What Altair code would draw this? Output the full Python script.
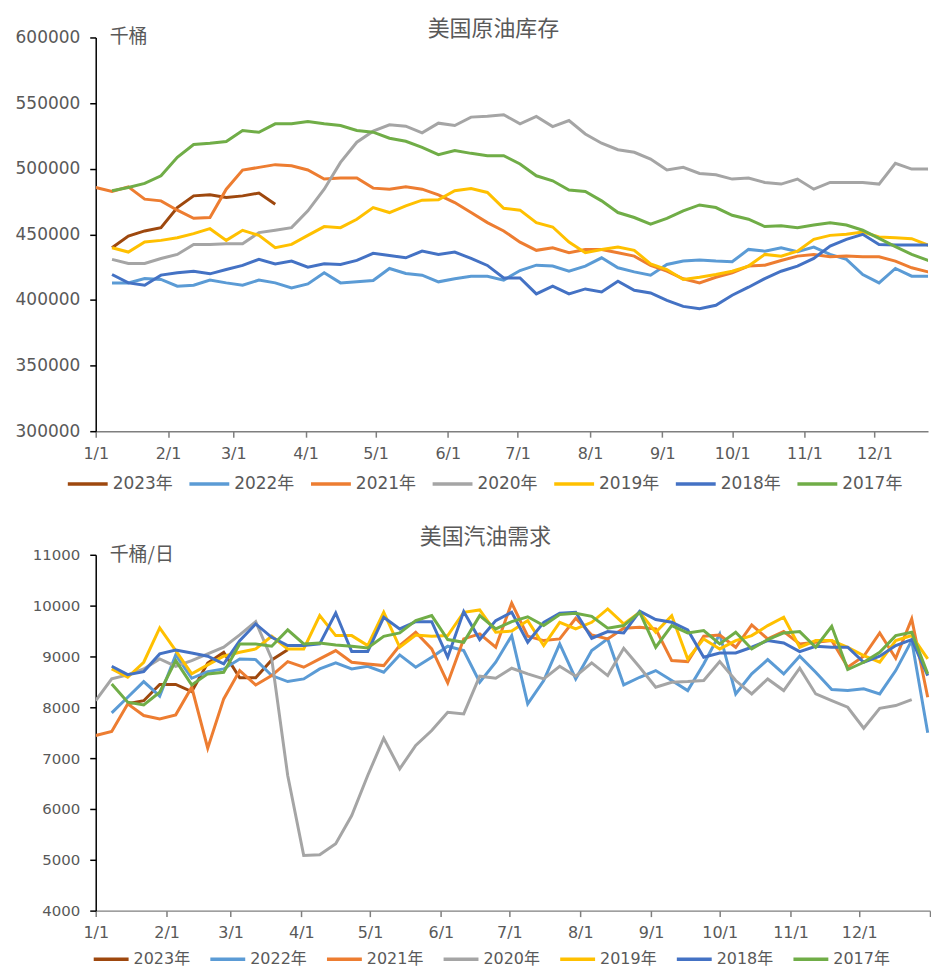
import altair as alt
import pandas as pd

SERIES = ["2023年", "2022年", "2021年", "2020年", "2019年", "2018年", "2017年"]
COLORS = ["#9E480E", "#5B9BD5", "#ED7D31", "#A5A5A5", "#FFC000", "#4472C4", "#70AD47"]

# weekly grid: index 0 = 1/1, then every 7 days
WEEK_DAY = [7 * i for i in range(53)]

MONTH_TICKS = [0, 31, 59, 90, 120, 151, 181, 212, 243, 273, 304, 334, 365]
MONTH_LABELS = ["1/1", "2/1", "3/1", "4/1", "5/1", "6/1", "7/1", "8/1", "9/1",
                "10/1", "11/1", "12/1", ""]

# ---------------- US crude inventory (thousand barrels) ----------------
crude_start = {"2023年": 1, "2022年": 1, "2021年": 0, "2020年": 1, "2019年": 1, "2018年": 1, "2017年": 1}
crude_2023 = [439800, 448700, 452600, 455100, 470400, 479300, 480100, 478100, 479300, 481400, 473000]
crude_2022 = [413000, 413000, 416300, 415600, 410500, 411200, 415100, 413000, 411200, 415100,
              413000, 409200, 412200, 420700, 413000, 413800, 414800, 424000, 420200, 418900,
              413800, 416100, 418100, 418100, 415100, 422400, 426500, 425800, 421900, 425800,
              432100, 424500, 421400, 418900, 427000, 429600, 430400, 429600, 429100, 438500,
              437200, 439800, 436700, 440300, 434700, 430900, 419400, 413000, 424000, 418100,
              418100, 418100]
crude_2021 = [485700, 482700, 486200, 476800, 475500, 468400, 462200, 462800, 484400, 499000,
              501000, 503100, 502300, 499000, 492100, 492900, 492900, 485200, 484400, 486200,
              484400, 480100, 474200, 466600, 458900, 452600, 444000, 437800, 439800, 436000,
              438500, 438500, 436000, 433400, 426300, 421900, 416100, 413000, 417300, 420700,
              425800, 426500, 430100, 433400, 434700, 432900, 433400, 432900, 432900, 429600,
              424500, 421400, 418900]
crude_2020 = [430900, 427800, 427800, 431600, 434700, 442300, 442300, 442900, 442900, 451300,
              453100, 455100, 467900, 484400, 504800, 520200, 528600, 533400, 532400, 527300,
              534700, 532900, 539300, 540000, 541100, 534200, 539800, 532100, 536700, 526500,
              519400, 514500, 512500, 507400, 499000, 501000, 496400, 495400, 492100, 492900,
              489500, 488300, 492100, 484400, 489500, 489500, 489500, 488300, 504100, 499700,
              499700, 494600]
crude_2019 = [439800, 436500, 444100, 445400, 447400, 450500, 454300, 445400, 453100, 449200,
              439800, 442300, 449200, 455900, 455100, 461500, 470400, 466600, 471700, 476000,
              476300, 483200, 484900, 481900, 469900, 468400, 458900, 455600, 444100, 436000,
              438500, 440300, 437800, 427500, 423200, 415600, 417300, 419400, 421900, 425800,
              434700, 433400, 437200, 446200, 449200, 450000, 451800, 448000, 447400, 446700,
              441800, 432000]
crude_2018 = [419400, 413000, 411200, 418900, 420700, 421900, 419900, 423200, 426300, 430900,
              427500, 429600, 425000, 427500, 427000, 430100, 435500, 433900, 432100, 437200,
              434700, 436500, 431600, 426300, 416800, 416800, 404600, 410500, 404600, 408400,
              406100, 414300, 407400, 405300, 399700, 395100, 393300, 395900, 403600, 409700,
              416300, 421900, 425800, 431600, 441100, 446200, 450000, 442300, 441800, 441800,
              441800, 441800]
crude_2017 = [483200, 485700, 488800, 494600, 508700, 518400, 519400, 520700, 529100, 527800,
              534200, 534200, 536000, 534200, 532900, 529100, 527800, 523200, 520900, 516300,
              510700, 513800, 511700, 509900, 509900, 503600, 494600, 490800, 483700, 482700,
              475500, 466600, 462800, 457700, 462200, 467900, 472400, 470400, 464500, 461500,
              455900, 456600, 455100, 457100, 458900, 457100, 453100, 446900, 440600, 434700,
              430100, 425000]

# ---------------- US gasoline demand (thousand barrels/day) ----------------
gas_start = {"2023年": 2, "2022年": 1, "2021年": 0, "2020年": 0, "2019年": 1, "2018年": 1, "2017年": 1}
gas_2023 = [8070, 8130, 8450, 8450, 8310, 8870, 9080, 8580, 8580, 8930, 9130]
gas_2022 = [7890, 8198, 8506, 8218, 9030, 8571, 8702, 8755, 8952, 8938,
            8624, 8506, 8558, 8755, 8873, 8755, 8807, 8689, 9030, 8788,
            8984, 9201, 9115, 8493, 8886, 9410, 8067, 8526, 9246, 8558,
            9115, 9345, 8440, 8591, 8722, 8526, 8329, 8853, 9443, 8263,
            8657, 8938, 8657, 9004, 8689, 8349, 8329, 8362, 8263, 8722,
            9312, 7497]
gas_2021 = [7444, 7523, 8067, 7837, 7772, 7851, 8394, 7195, 8165, 8722,
            8440, 8624, 8899, 8788, 8952, 9115, 8886, 8853, 8820, 9214,
            9476, 9148, 8480, 9345, 9443, 9181, 10052, 9400, 9312, 9345,
            9751, 9423, 9345, 9554, 9574, 9541, 8919, 8899, 9397, 9423,
            9181, 9620, 9345, 9489, 9246, 9279, 9312, 8788, 9004, 9463,
            8965, 9738, 8198]
gas_2020 = [8132, 8558, 8637, 8755, 8952, 8807, 8919, 9050, 9181, 9423,
            9685, 8952, 6658, 5085, 5098, 5315, 5871, 6658, 7392, 6789,
            7248, 7543, 7903, 7870, 8611, 8571, 8768, 8657, 8558, 8807,
            8611, 8873, 8624, 9161, 8788, 8394, 8493, 8506, 8526, 8899,
            8526, 8263, 8558, 8329, 8768, 8263, 8132, 8001, 7588, 7981,
            8034, 8152]
gas_2019 = [8755, 8591, 8886, 9561, 9115, 8657, 8834, 9004, 9083, 9148,
            9397, 9148, 9148, 9803, 9410, 9410, 9214, 9869, 9181, 9423,
            9397, 9410, 9869, 9915, 9476, 9500, 9705, 9214, 9672, 9541,
            9672, 9934, 9640, 9869, 9476, 9803, 8952, 9345, 9148, 9312,
            9410, 9607, 9771, 9181, 9312, 9312, 9181, 9017, 8886, 9312,
            9410, 8952]
gas_2018 = [8807, 8643, 8702, 9050, 9128, 9069, 9004, 8853, 9312, 9640,
            9377, 9214, 9214, 9246, 9856, 9096, 9096, 9771, 9541, 9685,
            9685, 8984, 9882, 9332, 9705, 9869, 9279, 9672, 9849, 9869,
            9358, 9489, 9463, 9889, 9725, 9672, 9522, 8984, 9069, 9069,
            9181, 9312, 9266, 9096, 9201, 9181, 9181, 8886, 9004, 9214,
            9332, 8624]
gas_2017 = [8460, 8100, 8047, 8296, 8919, 8440, 8657, 8689, 9246, 9246,
            9201, 9522, 9246, 9266, 9227, 9201, 9168, 9397, 9463, 9705,
            9803, 9332, 9279, 9803, 9541, 9685, 9780, 9607, 9823, 9849,
            9790, 9554, 9607, 9869, 9181, 9607, 9463, 9509, 9246, 9476,
            9148, 9332, 9463, 9489, 9181, 9594, 8742, 8886, 9083, 9410,
            9476, 8657]

crude = {"2023年": crude_2023, "2022年": crude_2022, "2021年": crude_2021, "2020年": crude_2020,
         "2019年": crude_2019, "2018年": crude_2018, "2017年": crude_2017}
gas = {"2023年": gas_2023, "2022年": gas_2022, "2021年": gas_2021, "2020年": gas_2020,
       "2019年": gas_2019, "2018年": gas_2018, "2017年": gas_2017}


def frame(series_map, starts, field):
    rows = []
    for s in SERIES:
        vals = series_map[s]
        for i, v in enumerate(vals):
            rows.append({"day": WEEK_DAY[starts[s] + i], field: s, "value": v})
    return pd.DataFrame(rows)


LABEL_EXPR = "[" + ",".join("'%s'" % l for l in MONTH_LABELS) + "][indexof([" + \
    ",".join(str(t) for t in MONTH_TICKS) + "], datum.value)]"

NUM_FONT = "DejaVu Sans"
CJK_FONT = "Noto Sans CJK SC"
GREY = "#595959"


def panel(df, field, title, unit, ydom, ystep, xmax, width, height, title_x, title_y,
          title_size, legend_x, legend_y, sym, lab_size, col_pad, ylab_size):
    ticks = [t for t in MONTH_TICKS if t <= xmax]
    lines = alt.Chart(df).mark_line(strokeWidth=3, clip=True).encode(
        x=alt.X("day:Q",
                scale=alt.Scale(domain=[0, xmax], nice=False, zero=False),
                axis=alt.Axis(values=ticks, labelExpr=LABEL_EXPR, title=None, grid=False,
                              domainColor="#7f7f7f", domainWidth=1.5, tickColor="#7f7f7f",
                              tickSize=6, tickWidth=1.5, labelFont=NUM_FONT, labelFontSize=16,
                              labelColor=GREY, labelPadding=8, labelFlush=False)),
        y=alt.Y("value:Q",
                scale=alt.Scale(domain=ydom, nice=False, zero=False),
                axis=alt.Axis(values=list(range(ydom[0], ydom[1] + 1, ystep)), format="d",
                              title=None, grid=False, domainColor="#000000", domainWidth=1.5,
                              tickColor="#000000", tickSize=6, tickWidth=1.5,
                              labelFont=NUM_FONT, labelFontSize=ylab_size, labelColor=GREY,
                              labelPadding=10)),
        color=alt.Color(field + ":N",
                        scale=alt.Scale(domain=SERIES, range=COLORS),
                        legend=alt.Legend(title=None, orient="none", direction="horizontal",
                                          legendX=legend_x, legendY=legend_y,
                                          symbolType="stroke", symbolStrokeWidth=3.5,
                                          symbolSize=sym * sym, labelFontSize=lab_size,
                                          labelFont=NUM_FONT + ", " + CJK_FONT,
                                          labelColor=GREY, columnPadding=col_pad,
                                          labelOffset=3)),
        order=alt.Order("day:Q"),
    )
    unit_df = pd.DataFrame({"t": [unit]})
    unit_text = alt.Chart(unit_df).mark_text(
        align="left", baseline="middle", fontSize=19, font=CJK_FONT, color=GREY
    ).encode(x=alt.value(14), y=alt.value(0), text="t:N")
    title_df = pd.DataFrame({"t": [title]})
    title_text = alt.Chart(title_df).mark_text(
        align="center", baseline="middle", fontSize=title_size, font=CJK_FONT, color=GREY
    ).encode(x=alt.value(title_x), y=alt.value(title_y), text="t:N")
    return alt.layer(lines, unit_text, title_text).properties(width=width, height=height)


top = panel(frame(crude, crude_start, "series_a"), "series_a", "美国原油库存", "千桶",
            [300000, 600000], 50000, 357, 835, 395, 399, -8, 22, -30, 426, 40, 17, 9, 17)
bottom = panel(frame(gas, gas_start, "series_b"), "series_b", "美国汽油需求", "千桶/日",
               [4000, 11000], 1000, 365, 837, 357, 391, -18, 22, -4, 386, 35, 16, 13, 15)

chart = alt.vconcat(top, bottom, spacing=34).resolve_scale(color="independent").resolve_legend(
    color="independent"
).configure_view(stroke=None).properties(
    padding={"left": 7, "top": 9, "right": 0, "bottom": 0}
)

chart.save("out.html", embed_options={"renderer": "svg", "actions": False})
